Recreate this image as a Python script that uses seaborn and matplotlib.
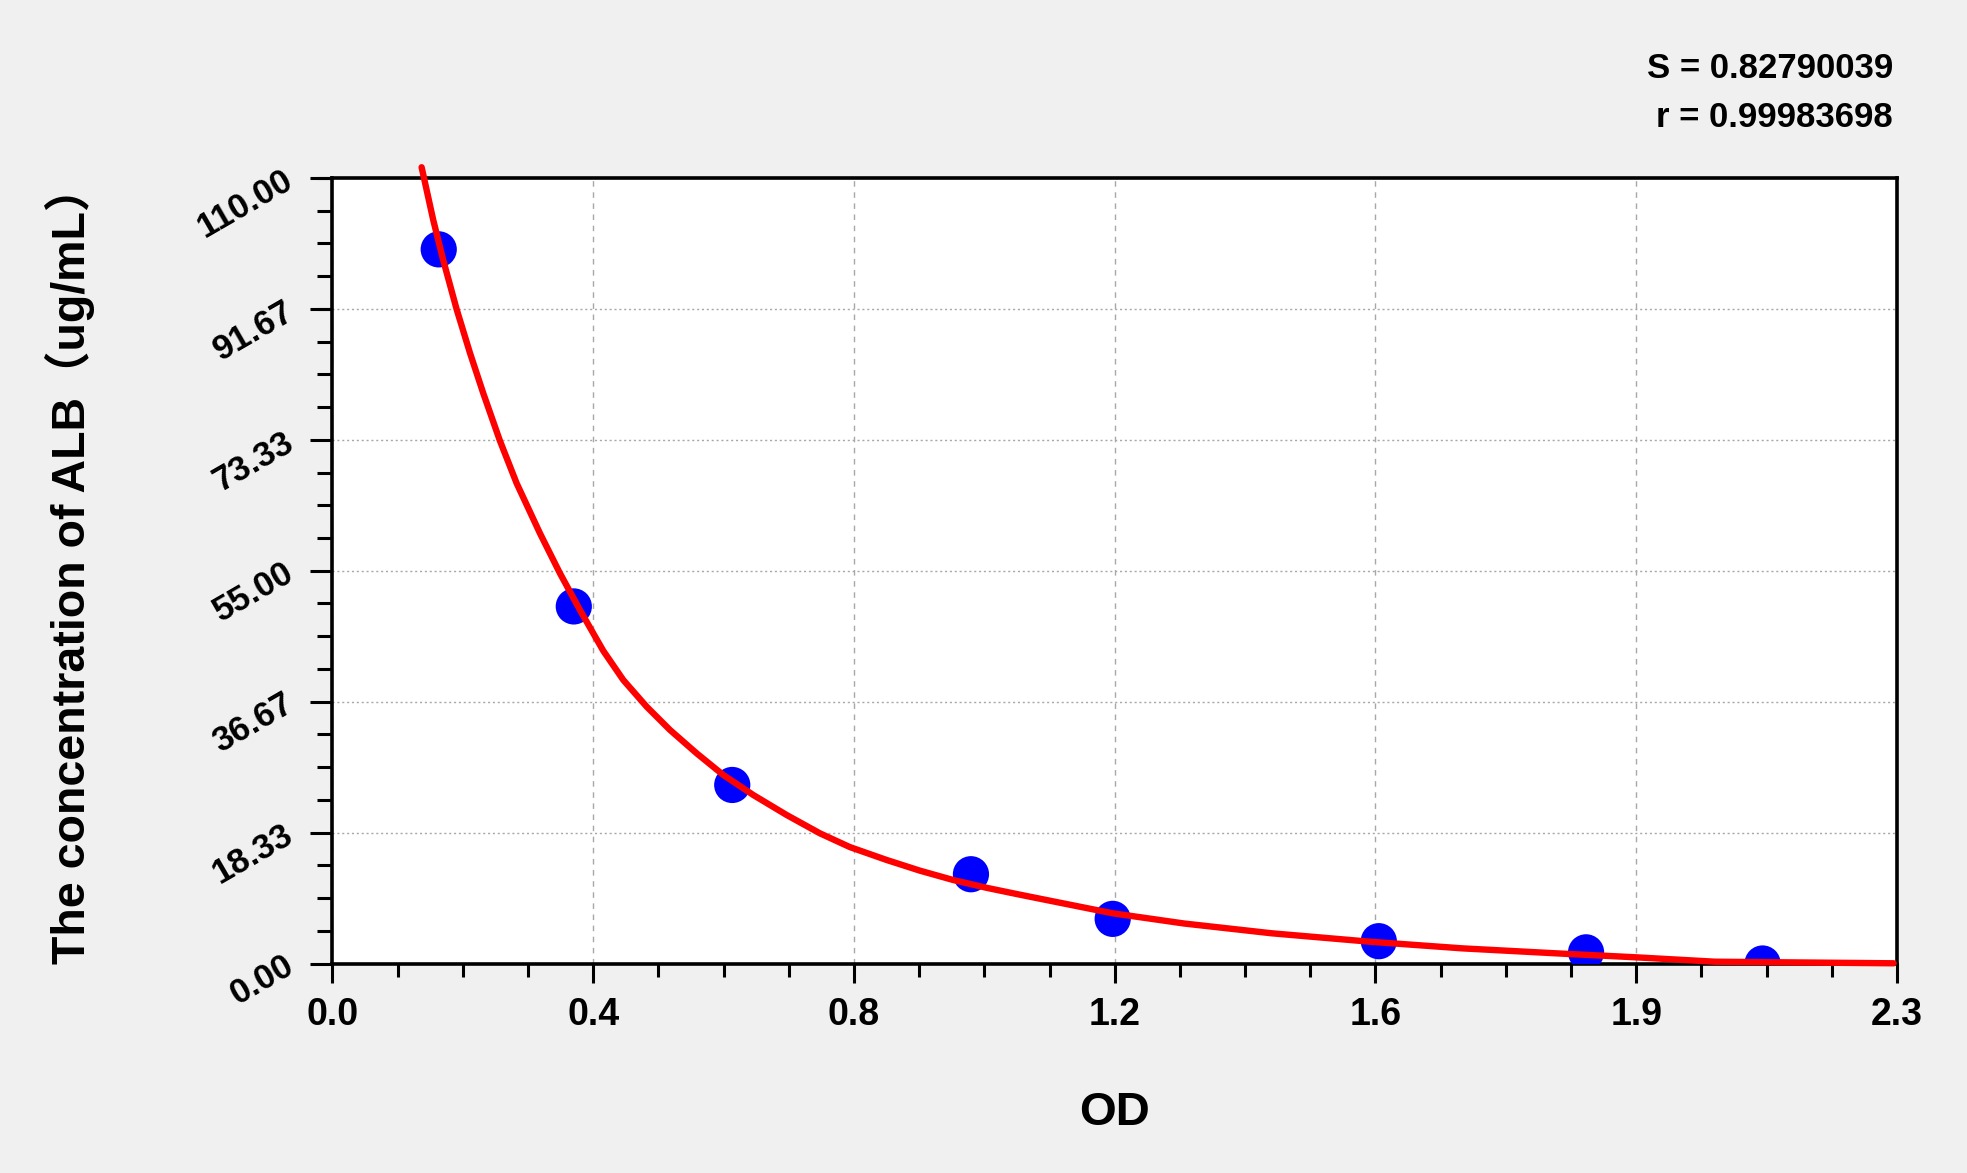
import numpy as np
import pandas as pd
import matplotlib
matplotlib.use('Agg')
import matplotlib.pyplot as plt
from matplotlib.ticker import AutoMinorLocator
import seaborn as sns

# standard points (OD vs concentration)
od = [0.159, 0.361, 0.598, 0.955, 1.167, 1.565, 1.875, 2.139]
conc = [100, 50, 25, 12.5, 6.25, 3.125, 1.5625, 0]

# fitted curve
curve_od = [0.1334, 0.1508, 0.1657, 0.1858, 0.2057, 0.2256, 0.2505, 0.2755,
            0.3104, 0.3403, 0.3702, 0.405, 0.435, 0.470, 0.5049, 0.5448,
            0.5846, 0.6294, 0.6793, 0.7291, 0.774, 0.8288, 0.8787, 0.9285,
            0.9784, 1.0233, 1.0514, 1.167, 1.2738, 1.4048, 1.5519, 1.69,
            1.829, 1.9488, 2.068, 2.335]
curve_conc = [111.5, 104.1, 98.5, 91.6, 85.5, 79.85, 73.2, 67.25,
              60.24, 54.64, 49.5, 43.8, 39.7, 35.96, 32.7, 29.43,
              26.4, 23.6, 20.8, 18.23, 16.3, 14.5, 13.0, 11.69,
              10.6, 9.73, 9.2, 7.03, 5.6, 4.23, 3.05, 2.12,
              1.43, 0.87, 0.25, 0.03]

xticks = [0, 0.39, 0.78, 1.17, 1.56, 1.95, 2.34]
xticklabels = ['0.0', '0.4', '0.8', '1.2', '1.6', '1.9', '2.3']
yticks = [0, 18.333, 36.667, 55, 73.333, 91.667, 110]
yticklabels = ['0.00', '18.33', '36.67', '55.00', '73.33', '91.67', '110.00']

stats_text = ['S = 0.82790039', 'r = 0.99983698']

sns.set_theme(style='ticks')
plt.rcParams['font.family'] = ['Liberation Sans', 'Noto Sans CJK SC']
plt.rcParams['font.weight'] = 'bold'
for key in ['text.color', 'axes.labelcolor', 'xtick.color', 'ytick.color']:
    plt.rcParams[key] = 'black'

fig = plt.figure(figsize=(19.67, 11.73), dpi=100, facecolor='#f0f0f0')
ax = fig.add_axes([0.169, 0.1786, 0.7954, 0.6697])
ax.set_facecolor('white')

sns.scatterplot(x=od, y=conc, ax=ax, s=680, color='#0000ff',
                edgecolor='none', linewidth=0, zorder=3)
sns.lineplot(x=curve_od, y=curve_conc, ax=ax, sort=False, estimator=None,
             color='#ff0000', lw=4.6, zorder=4)
ax.lines[-1].set_clip_on(False)

ax.set_xlim(0, 2.34)
ax.set_ylim(0, 110)
ax.set_xticks(xticks)
ax.set_xticklabels(xticklabels, fontsize=27, fontweight='bold')
ax.set_yticks(yticks)
ax.set_yticklabels(yticklabels, fontsize=25, fontweight='bold')
for lab in ax.get_yticklabels():
    lab.set_rotation(30)
    lab.set_rotation_mode('anchor')
    lab.set_ha('right')
    lab.set_va('center')
ax.xaxis.set_minor_locator(AutoMinorLocator(4))
ax.yaxis.set_minor_locator(AutoMinorLocator(4))
ax.tick_params(axis='x', which='major', length=14, width=2.2, pad=10)
ax.tick_params(axis='x', which='minor', length=9, width=2.2)
ax.tick_params(axis='y', which='major', length=16, width=2.2, pad=14)
ax.tick_params(axis='y', which='minor', length=11, width=2.2)

for sp in ax.spines.values():
    sp.set_visible(True)
    sp.set_linewidth(2.6)
    sp.set_color('black')

ax.xaxis.grid(True, color='#a8a8a8', lw=1, ls=(0, (4, 4)))
ax.yaxis.grid(True, color='#a8a8a8', lw=1, ls=(0, (1.5, 2)))
ax.set_axisbelow(True)

ax.set_xlabel('OD', fontsize=34, fontweight='bold', va='center')
ax.xaxis.set_label_coords(0.5, -0.19)
ax.set_ylabel('The concentration of ALB（ug/mL）', fontsize=33.5, fontweight='bold',
              va='center')
ax.yaxis.set_label_coords(-0.1678, 0.508)

fig.text(0.9624, 0.9335, stats_text[0], ha='right', va='baseline', fontsize=25,
         fontweight='bold')
fig.text(0.9624, 0.8917, stats_text[1], ha='right', va='baseline', fontsize=25,
         fontweight='bold')

fig.savefig('out.png', dpi=100, facecolor=fig.get_facecolor())
